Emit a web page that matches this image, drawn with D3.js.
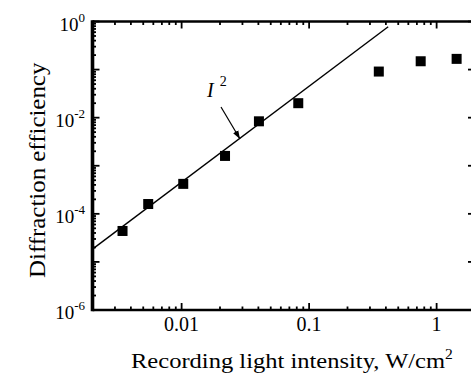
<!DOCTYPE html>
<html><head><meta charset="utf-8">
<script src="https://cdn.jsdelivr.net/npm/d3@7/dist/d3.min.js"></script>
<style>body{margin:0;background:#fff}svg{display:block}text{font-family:"Liberation Serif","Times New Roman",serif;fill:#000}</style>
</head><body>
<svg id="c" width="471" height="375"></svg>
<script>
// Data
const intensity = [0.00344, 0.00547, 0.0103, 0.0219, 0.0404, 0.0822, 0.352, 0.75, 1.435];
const efficiency = [4.4e-5, 1.6e-4, 4.2e-4, 1.6e-3, 8.4e-3, 2.0e-2, 0.091, 0.149, 0.167];
const fitX = [0.002, 0.417];
const fitY = [1.84e-5, 0.776];
const xTickValues = [0.01, 0.1, 1];
const xTickLabels = ["0.01", "0.1", "1"];
const yTickValues = [1, 1e-2, 1e-4, 1e-6];
const yTickExponents = ["0", "-2", "-4", "-6"];

const svg = d3.select("#c");
const L = 92.5, T = 21.5, B = 310;
const x = d3.scaleLog().domain([0.002, 2]).range([L, L + 3 * 127.5]);
const y = d3.scaleLog().domain([1e-6, 1]).range([B, T]);
const R = x.range()[1];

const xAll = [];
for (let e = -3; e <= 0; e++) for (let m = 1; m <= 9; m++) { const v = m * Math.pow(10, e); if (v >= 0.002 && v <= 2) xAll.push(v); }
const yAll = [];
for (let e = -6; e <= 0; e++) for (let m = 1; m <= 9; m++) { const v = m * Math.pow(10, e); if (v >= 1e-6 && v <= 1) yAll.push(v); }
const isMajor = v => Math.abs(Math.log10(v) - Math.round(Math.log10(v))) < 1e-9;

const g = svg.append("g").attr("stroke", "#000");
xAll.forEach(v => {
  const len = isMajor(v) ? 7 : 3.5;
  g.append("line").attr("x1", x(v)).attr("x2", x(v)).attr("y1", B).attr("y2", B - len).attr("stroke-width", 1.8);
  g.append("line").attr("x1", x(v)).attr("x2", x(v)).attr("y1", T).attr("y2", T + len).attr("stroke-width", 1.8);
});
yAll.forEach(v => {
  const len = isMajor(v) ? 7 : 3.5;
  g.append("line").attr("y1", y(v)).attr("y2", y(v)).attr("x1", L).attr("x2", L + len).attr("stroke-width", 1.8);
  g.append("line").attr("y1", y(v)).attr("y2", y(v)).attr("x1", R).attr("x2", R - len).attr("stroke-width", 1.8);
});
g.append("line").attr("x1", L).attr("x2", R).attr("y1", B).attr("y2", B).attr("stroke-width", 2.6);
g.append("line").attr("x1", L).attr("x2", R).attr("y1", T).attr("y2", T).attr("stroke-width", 2.4);
g.append("line").attr("x1", L).attr("x2", L).attr("y1", T - 1.2).attr("y2", B + 1.3).attr("stroke-width", 3.6);
g.append("line").attr("x1", R).attr("x2", R).attr("y1", T).attr("y2", B).attr("stroke-width", 2);

// x tick labels
xTickValues.forEach((v, i) => {
  svg.append("text").attr("x", x(v)).attr("y", 331).attr("text-anchor", "middle")
    .attr("font-size", 20).text(xTickLabels[i]);
});
// y tick labels
yTickValues.forEach((v, i) => {
  const t = svg.append("text").attr("x", 85).attr("y", y(v) + 9).attr("text-anchor", "end").attr("font-size", 19);
  t.append("tspan").text("10");
  t.append("tspan").attr("dy", -9).attr("font-size", 13).text(yTickExponents[i]);
});

// stretch helper: fit text horizontally (in its own frame) to a target length
function fit(sel, x0, y0, target, rot) {
  const w = sel.node().getBBox().width;
  sel.attr("transform", `translate(${x0},${y0})${rot ? " rotate(-90)" : ""} scale(${target / w},1)`);
}
const xt = svg.append("text").attr("x", 0).attr("y", 0).attr("font-size", 22);
xt.append("tspan").text("Recording light intensity, W/cm");
xt.append("tspan").attr("dy", -9).attr("font-size", 14).text("2");
fit(xt, 131, 368, 322, false);

const yt = svg.append("text").attr("x", 0).attr("y", 0).attr("font-size", 23).text("Diffraction efficiency");
fit(yt, 45, 278, 216, true);

// fit line
svg.append("path").datum(fitX.map((d, i) => [d, fitY[i]]))
  .attr("d", d3.line().x(d => x(d[0])).y(d => y(d[1])))
  .attr("fill", "none").attr("stroke", "#000").attr("stroke-width", 1.4);

// markers
const s = 10;
svg.append("g").selectAll("rect").data(intensity.map((d, i) => [d, efficiency[i]])).join("rect")
  .attr("x", d => x(d[0]) - s / 2).attr("y", d => y(d[1]) - s / 2)
  .attr("width", s).attr("height", s).attr("fill", "#000");

// I^2 annotation
const lab = svg.append("text").attr("x", 207).attr("y", 97).attr("font-size", 20);
lab.append("tspan").attr("font-style", "italic").text("I");
lab.append("tspan").attr("dx", 6).attr("dy", -11).attr("font-size", 14).text("2");
svg.append("defs").append("marker").attr("id", "ah").attr("viewBox", "0 0 10 10").attr("refX", 10).attr("refY", 5)
  .attr("markerWidth", 7).attr("markerHeight", 7).attr("orient", "auto-start-reverse")
  .append("path").attr("d", "M0,1.5 L10,5 L0,8.5 z").attr("fill", "#000");
svg.append("line").attr("x1", 221).attr("y1", 107).attr("x2", 240).attr("y2", 139)
  .attr("stroke", "#000").attr("stroke-width", 1.2).attr("marker-end", "url(#ah)");
</script>
</body></html>
